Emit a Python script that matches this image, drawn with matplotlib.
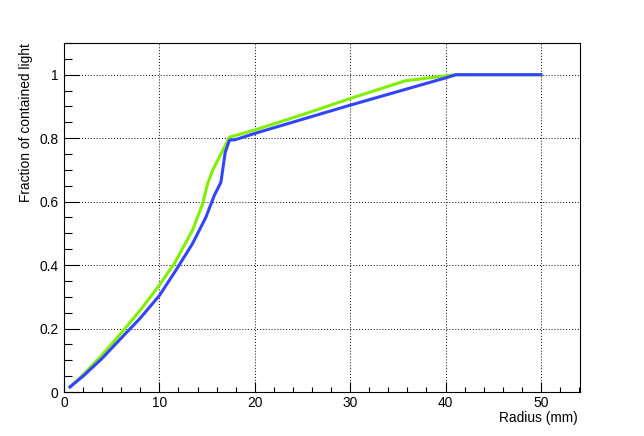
import matplotlib
matplotlib.use("Agg")
import matplotlib.pyplot as plt
from matplotlib.ticker import MultipleLocator

# ---------- data ----------
radius_green = [0.63, 2, 4, 6, 8, 10, 11.57, 13.48, 14.53, 15.05, 15.57, 16.45,
                17.35, 20, 25, 30, 35.8, 41, 50]
frac_green = [0.016, 0.054, 0.117, 0.186, 0.258, 0.337, 0.405, 0.51, 0.593, 0.656,
              0.698, 0.75, 0.803, 0.826, 0.874, 0.925, 0.981, 1.0, 1.0]

radius_blue = [0.63, 2, 4, 6, 8, 10, 11.74, 13.48, 14.88, 15.75, 16.45, 16.9,
               17.35, 17.94, 20, 30, 40, 41.1, 50]
frac_blue = [0.016, 0.05, 0.106, 0.17, 0.233, 0.304, 0.384, 0.468, 0.551, 0.619,
             0.661, 0.755, 0.794, 0.795, 0.815, 0.904, 0.99, 1.0, 1.0]

x_title = "Radius (mm)"
y_title = "Fraction of contained light"
y_ticks = [0, 0.2, 0.4, 0.6, 0.8, 1.0]
y_tick_labels = ["0", "0.2", "0.4", "0.6", "0.8", "1"]

# ---------- style ----------
plt.rcParams["font.family"] = ["Liberation Sans", "DejaVu Sans"]
plt.rcParams["font.size"] = 9.9

fig = plt.figure(figsize=(6.44, 4.36), dpi=100)
ax = fig.add_axes([64 / 644, 44 / 436, 516 / 644, 349 / 436])

ax.plot(radius_green, frac_green, color="#80f000", lw=2.2)
ax.plot(radius_blue, frac_blue, color="#3344ff", lw=2.2)

ax.set_xlim(0, 54.1)
ax.set_ylim(0, 1.1)

ax.xaxis.set_major_locator(MultipleLocator(10))
ax.xaxis.set_minor_locator(MultipleLocator(2))
ax.set_yticks(y_ticks)
ax.set_yticklabels(y_tick_labels)
ax.yaxis.set_minor_locator(MultipleLocator(0.05))

ax.tick_params(axis="x", which="major", direction="in", length=7.2, width=0.8, pad=3)
ax.tick_params(axis="x", which="minor", direction="in", length=3.6, width=0.8)
ax.tick_params(axis="y", which="major", direction="in", length=10.8, width=0.8, pad=4)
ax.tick_params(axis="y", which="minor", direction="in", length=5.4, width=0.8)

ax.grid(True, which="major", color="black", linestyle=(0, (1, 2)), linewidth=0.7)
ax.set_axisbelow(True)
for s in ax.spines.values():
    s.set_linewidth(0.8)

ax.set_xlabel(x_title, loc="right")
ax.xaxis.set_label_coords(0.996, -0.054)
ax.set_ylabel(y_title, loc="top")
ax.yaxis.set_label_coords(-0.060, 1.0)

fig.savefig("out.png", dpi=100)
